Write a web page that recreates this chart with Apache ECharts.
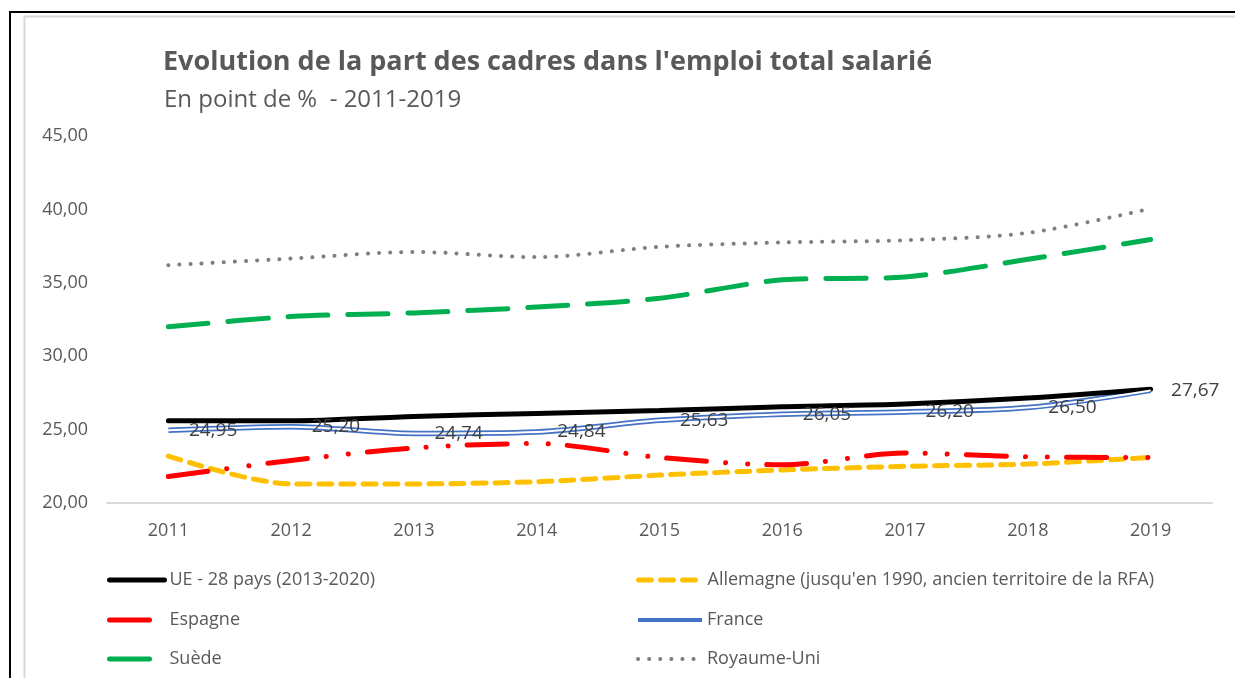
<!DOCTYPE html>
<html>
<head>
<meta charset="utf-8">
<title>Evolution de la part des cadres</title>
<script src="https://cdn.jsdelivr.net/npm/echarts@6/dist/echarts.min.js"></script>
<style>
    html, body { margin: 0; padding: 0; background: #fff; }
    #chart { width: 1235px; height: 678px; }
</style>
</head>
<body>
<div id="chart"></div>
<script>
var years = ['2011', '2012', '2013', '2014', '2015', '2016', '2017', '2018', '2019'];

var ue = [25.6, 25.6, 25.9, 26.1, 26.3, 26.55, 26.75, 27.15, 27.75];
var allemagne = [23.2, 21.3, 21.3, 21.45, 21.9, 22.25, 22.5, 22.65, 23.1];
var espagne = [21.8, 22.9, 23.75, 24.05, 23.1, 22.6, 23.4, 23.15, 23.1];
var france = [24.95, 25.20, 24.74, 24.84, 25.63, 26.05, 26.20, 26.50, 27.67];
var suede = [32.0, 32.7, 32.95, 33.35, 33.95, 35.2, 35.4, 36.6, 37.95];
var royaumeUni = [36.2, 36.65, 37.1, 36.75, 37.45, 37.75, 37.9, 38.4, 40.05];

var FONT = '"Open Sans", "Noto Sans", sans-serif';
var GREY = '#595959';

var NAME_UE = 'UE - 28 pays (2013-2020)';
var NAME_DE = "Allemagne (jusqu'en 1990, ancien territoire de la RFA)";

function fmt(v) {
    return Number(v).toFixed(2).replace('.', ',');
}

// one legend per entry, so the two columns sit where Excel put them
function legend_item(left, top, width, name, line_width) {
    return {
        left: left,
        top: top,
        padding: 0,
        itemWidth: width,
        itemHeight: 14,
        itemStyle: { opacity: 0 },   // hide the symbol drawn in the middle of the line
        textStyle: { fontFamily: FONT, fontSize: 18, color: GREY },
        data: [{ name: name, lineStyle: { width: line_width } }]
    };
}

function set_chart() {
    var chart = echarts.init(document.getElementById('chart'));
    var option = {
        animation: false,
        textStyle: { fontFamily: FONT },
        title: [
            {
                text: "Evolution de la part des cadres dans l'emploi total salarié",
                left: 158,
                top: 44,
                textStyle: { fontFamily: FONT, fontSize: 27, fontWeight: 'bold', color: GREY }
            },
            {
                text: 'En point de %  - 2011-2019',
                left: 159,
                top: 83,
                textStyle: { fontFamily: FONT, fontSize: 24, fontWeight: 'normal', color: GREY }
            }
        ],
        graphic: [
            {   // outer black frame
                type: 'rect',
                shape: { x: 10, y: 12, width: 1400, height: 800 },
                style: { fill: 'none', stroke: '#000', lineWidth: 2 }
            },
            {   // chart area border
                type: 'rect',
                shape: { x: 24.5, y: 16.5, width: 1400, height: 800 },
                style: { fill: 'none', stroke: '#d9d9d9', lineWidth: 2 }
            }
        ],
        legend: [
            legend_item(107, 571, 55, NAME_UE, 5),
            legend_item(107, 611, 55, 'Espagne', 5),
            legend_item(107, 650, 55, 'Suède', 5),
            legend_item(636, 571, 64, NAME_DE, 5),
            legend_item(636, 611, 64, 'France', 4),
            legend_item(636, 650, 64, 'Royaume-Uni', 4)
        ],
        grid: {
            left: 107,
            right: 23,
            top: 136,
            bottom: 175
        },
        xAxis: {
            type: 'category',
            data: years,
            boundaryGap: true,
            axisTick: { show: false },
            axisLine: { lineStyle: { color: '#d9d9d9', width: 2 } },
            axisLabel: { color: GREY, fontSize: 18, margin: 19 }
        },
        yAxis: {
            type: 'value',
            min: 20,
            max: 45,
            interval: 5,
            splitLine: { show: false },
            axisLine: { show: false },
            axisTick: { show: false },
            axisLabel: { color: GREY, fontSize: 18, margin: 19, formatter: fmt }
        },
        series: [
            {
                name: NAME_UE,
                type: 'line',
                data: ue,
                smooth: 0.3,
                symbol: 'none',
                lineStyle: { color: '#000', width: 5, cap: 'round' },
                itemStyle: { color: '#000' }
            },
            {
                name: NAME_DE,
                type: 'line',
                data: allemagne,
                smooth: 0.3,
                symbol: 'none',
                lineStyle: { color: '#FFC000', width: 5, type: [13, 9], cap: 'round' },
                itemStyle: { color: '#FFC000' }
            },
            {
                name: 'Espagne',
                type: 'line',
                data: espagne,
                smooth: 0.3,
                symbol: 'none',
                lineStyle: { color: '#FF0000', width: 5, type: [40, 19, 0.1, 22, 0.1, 19], cap: 'round' },
                itemStyle: { color: '#FF0000' }
            },
            {
                name: 'France',
                type: 'line',
                data: france,
                smooth: 0.3,
                symbol: 'none',
                lineStyle: { color: '#4472C4', width: 5.5 },
                itemStyle: { color: '#4472C4' },
                z: 2
            },
            {
                // white core of the double line, carries the data labels
                name: 'France inner',
                type: 'line',
                data: france,
                smooth: 0.3,
                symbol: 'circle',
                symbolSize: 1,
                showSymbol: true,
                silent: true,
                lineStyle: { color: '#fff', width: 2 },
                itemStyle: { color: '#fff' },
                label: {
                    show: true,
                    position: 'right',
                    distance: 20,
                    color: '#404040',
                    fontSize: 19,
                    formatter: function (p) { return fmt(p.value); }
                },
                z: 3
            },
            {
                name: 'Suède',
                type: 'line',
                data: suede,
                smooth: 0.3,
                symbol: 'none',
                lineStyle: { color: '#00B050', width: 5, type: [40, 20], cap: 'round' },
                itemStyle: { color: '#00B050' }
            },
            {
                name: 'Royaume-Uni',
                type: 'line',
                data: royaumeUni,
                smooth: 0.3,
                symbol: 'none',
                lineStyle: { color: '#7F7F7F', width: 4, type: [0.1, 11], cap: 'round' },
                itemStyle: { color: '#7F7F7F' }
            }
        ]
    };

    chart.setOption(option);
}

set_chart();
</script>
</body>
</html>
